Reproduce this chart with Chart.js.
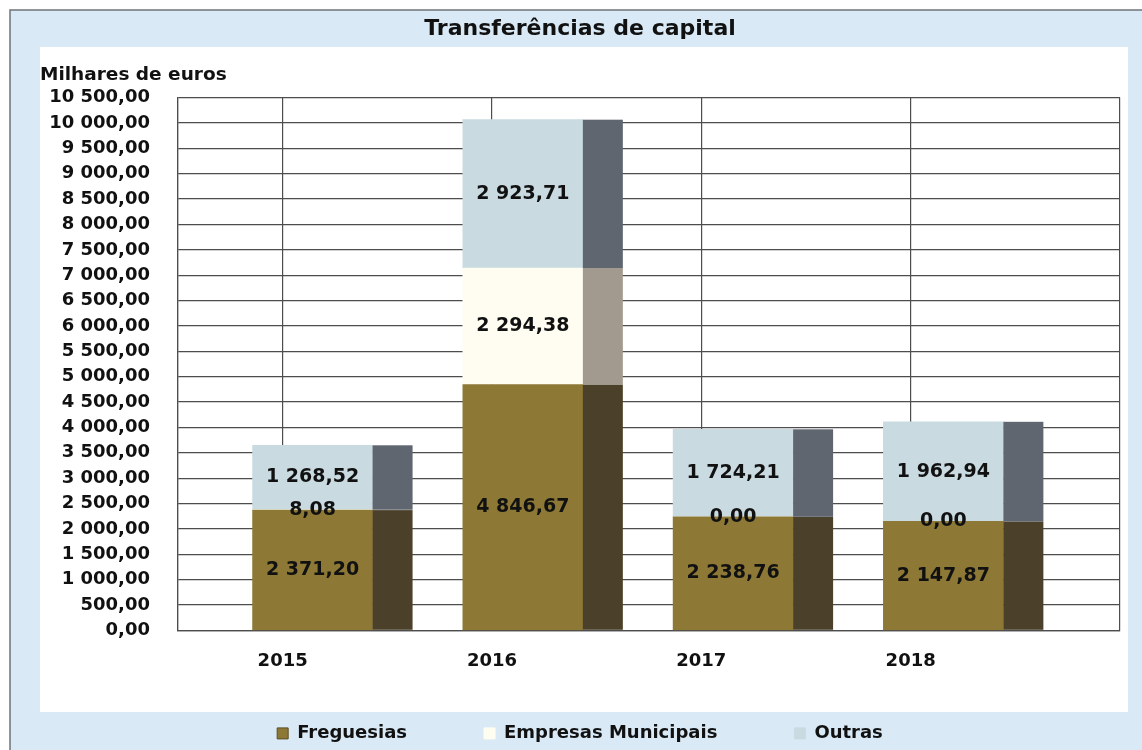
<!DOCTYPE html>
<html>
<head>
<meta charset="utf-8">
<title>Transferências de capital</title>
<script src="https://cdn.jsdelivr.net/npm/chart.js@4/dist/chart.umd.min.js"></script>
<style>
    html, body { margin: 0; padding: 0; background: #ffffff; }
    #wrap { width: 1142px; height: 750px; }
</style>
</head>
<body>
<div id="wrap"><canvas id="capChart" width="1142" height="750"></canvas></div>
<script>
// Transferências de capital (milhares de euros)
const years = [2015, 2016, 2017, 2018];
const freguesias = [2371.20, 4846.67, 2238.76, 2147.87];
const empresasMunicipais = [8.08, 2294.38, 0.00, 0.00];
const outras = [1268.52, 2923.71, 1724.21, 1962.94];

const seriesNames = ['Freguesias', 'Empresas Municipais', 'Outras'];
const frontColors = ['#8d7935', '#fffdf2', '#c9dae1'];
const sideColors = ['#4b4029', '#a29a8e', '#5f6670'];

const FONT = 'DejaVu Sans';

// 10500 -> "10 500,00"
function fmtPt(v) {
    const parts = Number(v).toFixed(2).split('.');
    return parts[0].replace(/\B(?=(\d{3})+(?!\d))/g, ' ') + ',' + parts[1];
}

function toPoints(values) {
    return values.map((v, i) => ({ x: years[i], y: v }));
}

// light blue frame with white inner panel
const framePlugin = {
    id: 'frame',
    beforeDraw(chart) {
        const ctx = chart.ctx;
        ctx.save();
        ctx.fillStyle = '#ffffff';
        ctx.fillRect(0, 0, chart.width, chart.height);
        ctx.fillStyle = '#d9eaf6';
        ctx.fillRect(10, 10, chart.width - 10, chart.height - 10);
        ctx.strokeStyle = '#6f7378';
        ctx.lineWidth = 1.5;
        ctx.beginPath();
        ctx.moveTo(10, chart.height);
        ctx.lineTo(10, 10);
        ctx.lineTo(chart.width, 10);
        ctx.stroke();
        ctx.fillStyle = '#ffffff';
        ctx.fillRect(40, 47, 1088, 665);
        ctx.restore();
    }
};

// legend sits low in the blue band, well below the year labels
const legendShift = {
    id: 'legendShift',
    afterLayout(chart) {
        const lg = chart.legend;
        if (!lg) return;
        lg.top = chart.chartArea.bottom + 17;
        lg.bottom = chart.height;
    }
};

// darker side face on the right of every bar + value labels
const depthPlugin = {
    id: 'depth',
    afterDatasetsDraw(chart) {
        const ctx = chart.ctx;
        const depth = 40;
        ctx.save();
        chart.data.datasets.forEach((ds, di) => {
            const meta = chart.getDatasetMeta(di);
            meta.data.forEach(bar => {
                const p = bar.getProps(['x', 'y', 'base', 'width'], true);
                const top = Math.min(p.y, p.base);
                const h = Math.abs(p.base - p.y);
                if (h <= 0) return;
                ctx.fillStyle = sideColors[di];
                ctx.fillRect(p.x + p.width / 2, top, depth, h);
            });
        });
        ctx.font = 'bold 19px "' + FONT + '"';
        ctx.fillStyle = '#111111';
        ctx.textAlign = 'center';
        ctx.textBaseline = 'middle';
        chart.data.datasets.forEach((ds, di) => {
            const meta = chart.getDatasetMeta(di);
            meta.data.forEach((bar, i) => {
                const p = bar.getProps(['x', 'y', 'base'], true);
                ctx.fillText(fmtPt(ds.data[i].y), p.x, (p.y + p.base) / 2);
            });
        });
        ctx.restore();
    }
};

const gridColor = '#4d4d4d';

const config = {
    type: 'bar',
    data: {
        datasets: [
            { label: seriesNames[0], data: toPoints(freguesias), backgroundColor: frontColors[0] },
            { label: seriesNames[1], data: toPoints(empresasMunicipais), backgroundColor: frontColors[1] },
            { label: seriesNames[2], data: toPoints(outras), backgroundColor: frontColors[2] }
        ].map(ds => Object.assign(ds, { xAxisID: 'xb', barThickness: 120, borderWidth: 0 }))
    },
    options: {
        responsive: false,
        animation: false,
        layout: { padding: { left: 40, right: 22, top: 10, bottom: 0 } },
        plugins: {
            title: {
                display: true,
                text: 'Transferências de capital',
                color: '#111111',
                font: { family: FONT, size: 22, weight: 'bold' },
                padding: { top: 6, bottom: 18 }
            },
            subtitle: {
                display: true,
                text: 'Milhares de euros',
                align: 'start',
                color: '#111111',
                font: { family: FONT, size: 18.5, weight: 'bold' },
                padding: { top: 4, bottom: 11 }
            },
            legend: {
                position: 'bottom',
                maxHeight: 58,
                labels: {
                    boxWidth: 11,
                    boxHeight: 11,
                    padding: 77,
                    color: '#111111',
                    font: { family: FONT, size: 18, weight: 'bold' },
                    generateLabels(chart) {
                        return chart.data.datasets.map((ds, i) => ({
                            text: ds.label,
                            fillStyle: frontColors[i],
                            strokeStyle: i === 0 ? '#5a4c22' : frontColors[i],
                            lineWidth: 1,
                            datasetIndex: i,
                            fontColor: '#111111'
                        }));
                    }
                }
            },
            tooltip: { enabled: false }
        },
        scales: {
            x: {
                type: 'linear',
                position: 'bottom',
                offset: false,
                min: 2014.5,
                max: 2019,
                grid: { offset: false, color: gridColor, lineWidth: 1.2, drawTicks: false },
                border: { display: true, color: gridColor, width: 1.2 },
                ticks: {
                    stepSize: 1,
                    autoSkip: false,
                    maxRotation: 0,
                    padding: 20,
                    color: '#111111',
                    font: { family: FONT, size: 18, weight: 'bold' },
                    callback: v => {
                        const yr = years.find(y => Math.abs(y - v) < 1e-6);
                        return yr ? String(yr) : '';
                    }
                }
            },
            xb: {
                type: 'linear',
                display: false,
                offset: false,
                grid: { offset: false },
                stacked: true,
                min: 2014.36,
                max: 2018.84
            },
            y: {
                stacked: true,
                min: 0,
                max: 10500,
                afterFit(scale) { scale.width = 138; },
                grid: { color: gridColor, lineWidth: 1.2, drawTicks: false },
                border: { display: true, color: gridColor, width: 1.2 },
                ticks: {
                    stepSize: 500,
                    autoSkip: false,
                    padding: 28,
                    color: '#111111',
                    font: { family: FONT, size: 18, weight: 'bold' },
                    callback: v => fmtPt(v)
                }
            }
        }
    },
    plugins: [framePlugin, legendShift, depthPlugin]
};

new Chart(document.getElementById('capChart'), config);
</script>
</body>
</html>
